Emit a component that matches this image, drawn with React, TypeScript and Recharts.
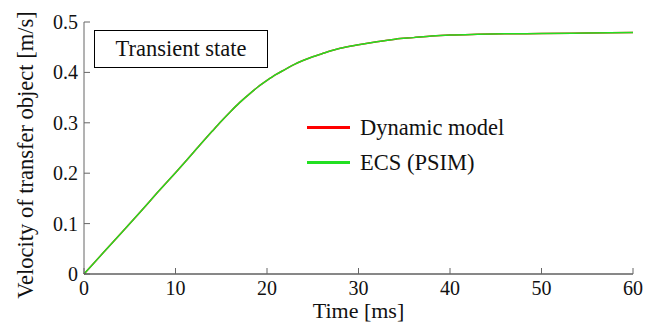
import React from "react";
import {
  LineChart,
  Line,
  XAxis,
  YAxis,
  Legend,
} from "recharts";

// readings taken off the reference curve (time in ms, velocity in m/s)
const TIME_MS = [
  0, 2, 4, 6, 8, 10, 12, 14, 15, 16, 17, 18, 19, 20, 21, 22, 23, 24, 25, 26,
  27, 28, 30, 32, 34, 36, 38, 40, 43, 46, 50, 55, 60,
];
const DYNAMIC_MODEL = [
  0, 0.04, 0.08, 0.12, 0.161, 0.201, 0.242, 0.283, 0.303, 0.322, 0.34, 0.356,
  0.371, 0.384, 0.396, 0.406, 0.416, 0.424, 0.431, 0.437, 0.443, 0.448, 0.455,
  0.461, 0.466, 0.469, 0.472, 0.474, 0.4755, 0.4765, 0.477, 0.478, 0.479,
];
const ECS_PSIM = [
  0, 0.04, 0.08, 0.12, 0.161, 0.201, 0.242, 0.283, 0.303, 0.322, 0.34, 0.356,
  0.371, 0.384, 0.396, 0.406, 0.416, 0.424, 0.431, 0.437, 0.443, 0.448, 0.455,
  0.461, 0.466, 0.469, 0.472, 0.474, 0.4755, 0.4765, 0.477, 0.478, 0.479,
];

const X_TICKS = [0, 10, 20, 30, 40, 50, 60];
const Y_TICKS = [0, 0.1, 0.2, 0.3, 0.4, 0.5];

const data = TIME_MS.map((t, i) => ({
  t,
  dynamic: DYNAMIC_MODEL[i],
  ecs: ECS_PSIM[i],
}));

const FONT = "Liberation Serif, DejaVu Serif, serif";
const TEXT = "#111111";
const FRAME = "#666666";
const TICK_LEN = 6;

const BottomTick = (props: any) => {
  const { x, y, payload } = props;
  return (
    <g>
      <line x1={x} x2={x} y1={y} y2={y - TICK_LEN} stroke={FRAME} />
      <text x={x} y={y + 21} textAnchor="middle" style={{ fontFamily: FONT }} fontSize={20} fill={TEXT}>
        {payload.value}
      </text>
    </g>
  );
};

const LeftTick = (props: any) => {
  const { x, y, payload } = props;
  return (
    <g>
      <line x1={x} x2={x + TICK_LEN} y1={y} y2={y} stroke={FRAME} />
      <text x={x - 6} y={y + 7} textAnchor="end" style={{ fontFamily: FONT }} fontSize={20} fill={TEXT}>
        {payload.value}
      </text>
    </g>
  );
};

const TopTick = (props: any) => {
  const { x, y } = props;
  return <line x1={x} x2={x} y1={y} y2={y + TICK_LEN} stroke={FRAME} />;
};

const RightTick = (props: any) => {
  const { x, y } = props;
  return <line x1={x} x2={x - TICK_LEN} y1={y} y2={y} stroke={FRAME} />;
};

const renderLegend = (props: any) => {
  const { payload } = props;
  return (
    <div style={{ fontFamily: FONT, fontSize: 22.5, color: TEXT }}>
      {payload.map((entry: any) => (
        <div key={entry.value} style={{ display: "flex", alignItems: "center", height: 35 }}>
          <span style={{ display: "inline-block", width: 43, height: 3, background: entry.color }} />
          <span style={{ marginLeft: 10, lineHeight: "35px" }}>{entry.value}</span>
        </div>
      ))}
    </div>
  );
};

export default function App() {
  return (
    <div style={{ position: "relative", width: 650, height: 333, background: "#fff", fontFamily: FONT }}>
      <style>{"body{margin:0}"}</style>
      <LineChart
        width={650}
        height={333}
        data={data}
        margin={{ top: 22, right: 17, bottom: 0, left: 0 }}
      >
        <XAxis
          dataKey="t"
          type="number"
          domain={[0, 60]}
          ticks={X_TICKS}
          height={59}
          tickSize={0}
          tickMargin={0}
          tickLine={false}
          axisLine={{ stroke: "#111111" }}
          tick={<BottomTick />}
          interval={0}
          label={{
            content: (p: any) => {
              const vb = p.viewBox;
              return (
                <text
                  x={vb.x + vb.width / 2}
                  y={318}
                  textAnchor="middle"
                  style={{ fontFamily: FONT }}
                  fontSize={22}
                  fill={TEXT}
                >
                  Time [ms]
                </text>
              );
            },
          }}
        />
        <XAxis
          xAxisId="top"
          orientation="top"
          dataKey="t"
          type="number"
          domain={[0, 60]}
          ticks={X_TICKS}
          height={0}
          tickSize={0}
          tickMargin={0}
          tickLine={false}
          axisLine={{ stroke: FRAME }}
          tick={<TopTick />}
          interval={0}
        />
        <YAxis
          type="number"
          domain={[0, 0.5]}
          ticks={Y_TICKS}
          width={84}
          tickSize={0}
          tickMargin={0}
          tickLine={false}
          axisLine={{ stroke: FRAME }}
          tick={<LeftTick />}
          interval={0}
          label={{
            content: (p: any) => {
              const vb = p.viewBox;
              const cx = 33;
              const cy = vb.y + vb.height / 2 + 7;
              return (
                <text
                  x={cx}
                  y={cy}
                  transform={`rotate(-90, ${cx}, ${cy})`}
                  textAnchor="middle"
                  style={{ fontFamily: FONT }}
                  fontSize={22.5}
                  fill={TEXT}
                >
                  Velocity of transfer object [m/s]
                </text>
              );
            },
          }}
        />
        <YAxis
          yAxisId="right"
          orientation="right"
          type="number"
          domain={[0, 0.5]}
          ticks={Y_TICKS}
          width={0}
          tickSize={0}
          tickMargin={0}
          tickLine={false}
          axisLine={{ stroke: FRAME }}
          tick={<RightTick />}
          interval={0}
        />
        <Legend
          layout="vertical"
          align="center"
          verticalAlign="middle"
          content={renderLegend}
          wrapperStyle={{ left: 307, top: 110, width: 220 }}
        />
        <Line
          name="Dynamic model"
          dataKey="dynamic"
          stroke="#ff0000"
          strokeWidth={1.5}
          dot={false}
          type="monotone"
          isAnimationActive={false}
        />
        <Line
          name="ECS (PSIM)"
          dataKey="ecs"
          stroke="#22e022"
          strokeWidth={1.5}
          dot={false}
          type="monotone"
          isAnimationActive={false}
        />
      </LineChart>
      <div
        style={{
          position: "absolute",
          left: 94,
          top: 30,
          width: 174,
          height: 38,
          boxSizing: "border-box",
          border: "1.5px solid #000",
          background: "#fff",
          display: "flex",
          alignItems: "center",
          justifyContent: "center",
          fontFamily: FONT,
          fontSize: 22.5,
          color: TEXT,
        }}
      >
        Transient state
      </div>
    </div>
  );
}
